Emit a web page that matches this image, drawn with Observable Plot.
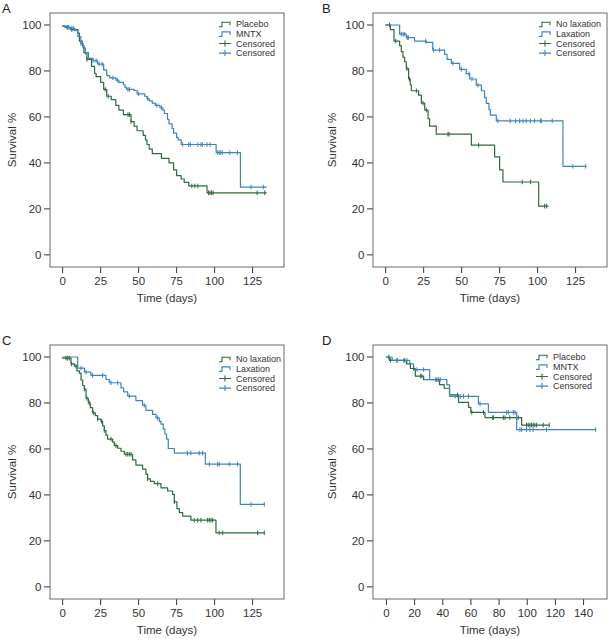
<!DOCTYPE html>
<html><head><meta charset="utf-8">
<script src="https://cdn.jsdelivr.net/npm/d3@7"></script>
<script src="https://cdn.jsdelivr.net/npm/@observablehq/plot@0.6"></script>
<style>
html,body{margin:0;padding:0;background:#fff;overflow:hidden}
#fig{position:relative;width:608px;height:639px;overflow:hidden;font-family:"Liberation Sans",Arial,Helvetica,sans-serif;color:#333}
.panel{position:absolute;width:300px;height:310px}
.panel svg{max-width:none !important;width:300px;height:310px}
.letter{position:absolute;font-size:13px;line-height:1;color:#222}
</style></head><body><div id="fig"></div>
<script>
// ---------- Panel A: Placebo vs MNTX ----------
const A_placebo_t = [0, 1.5, 5, 10, 11, 13, 14, 16, 19, 21, 22, 25, 27, 29, 32, 35, 37, 40, 45, 47, 49, 53, 54.5, 55.5, 57, 59, 65, 70, 73, 75, 78, 80, 83, 95, 134];
const A_placebo_s = [99.5, 99, 98, 96.5, 93, 91, 88, 85, 82, 79, 77.5, 75, 72, 69, 67.5, 65, 63, 61, 58, 56, 54, 52, 50, 48, 46, 44, 42, 40, 37, 34.5, 33, 31.5, 30, 27, 27];
const A_placebo_cens = [3, 6, 16, 28, 30, 43, 44, 45, 85, 87, 89, 96, 97, 98, 99, 128, 133];
const A_mntx_t = [0, 2, 5, 8, 10, 12, 13.5, 15, 17, 20, 23, 27, 29, 31, 35, 37, 40, 41, 42, 47, 49, 54, 55.5, 57, 59, 61, 64, 66, 67, 69, 70, 72, 73, 75, 76, 78, 101, 117, 134];
const A_mntx_s = [99.5, 99, 98.5, 97.5, 95, 92, 90, 88, 85.5, 84.5, 83, 80.5, 78, 77, 76, 75, 74, 73, 72, 71.5, 70, 69, 68, 67, 66, 65, 64, 63, 61.5, 59, 57, 55, 53, 51, 50, 48, 44.5, 29.5, 29.5];
const A_mntx_cens = [3, 4, 6, 7, 12, 13, 14, 15, 20, 22, 24, 26, 33, 36, 43, 44, 50, 56, 62, 65, 79, 83, 84, 89, 91, 92, 95, 97, 102, 103, 104, 105, 110, 115, 124, 132];

// ---------- Panel B: No laxation vs Laxation ----------
const B_nolax_t = [0, 3.1, 5.5, 9.2, 10.3, 11.4, 12.5, 13.6, 15.1, 16.2, 16.9, 21.7, 23.5, 25.7, 27.9, 28.9, 33.3, 56.4, 71.7, 75, 77.2, 100.7, 106.8];
const B_nolax_s = [100, 98, 93, 91, 88.4, 86, 84, 81, 76.5, 74, 71.4, 69.5, 66, 63, 59.3, 56, 52.5, 47.7, 42.6, 37, 31.7, 21.2, 21.2];
const B_nolax_cens = [2.6, 6.6, 14, 15.6, 20.2, 24.6, 26.8, 41, 41.7, 61.2, 89.9, 95.4, 104.6, 106];
const B_lax_t = [0, 9.2, 13.6, 19, 26.8, 31, 38.8, 40.4, 43.2, 48.7, 53, 55.3, 59.6, 63, 65.1, 66.2, 68, 68.9, 72.8, 116.7, 132];
const B_lax_s = [100, 96, 94.5, 93, 92.4, 89.1, 87.2, 85, 83.3, 80.7, 78.8, 76.5, 73.8, 71.4, 68.5, 65.9, 63.2, 60.8, 58.3, 38.5, 38.5];
const B_lax_cens = [10.3, 11.5, 12.5, 14.2, 14.9, 26.3, 31.5, 35.5, 44.3, 49.8, 54.8, 56.8, 60.7, 73.9, 82, 85.5, 88.2, 90.4, 92.5, 95.2, 98, 101.8, 102.4, 109.6, 123.2, 131.6];

// ---------- Panel C: No laxation vs Laxation ----------
const C_nolax_t = [0, 5.5, 7.7, 9.4, 11, 12.1, 13.2, 14.3, 15.4, 16.9, 18.2, 19.7, 21.5, 23, 25.2, 26.3, 27.4, 28.5, 29.6, 32.9, 34, 36.2, 38.4, 40.6, 46, 48.2, 52.6, 54.8, 55.9, 57.7, 60.3, 64.7, 69.1, 72.4, 73.5, 75.2, 76.8, 79, 84.4, 100.9, 132.7];
const C_nolax_s = [99.5, 97, 96, 94, 93, 90, 87.6, 86, 82, 80, 78, 75.7, 74.5, 73, 72, 70, 68, 66, 64.3, 63, 61.4, 60.3, 59, 57.7, 55.2, 53, 51.2, 49, 47, 45.9, 44.9, 43.1, 41.7, 40.2, 37, 34, 32.3, 30.8, 29, 23.5, 23.5];
const C_nolax_cens = [2.2, 3.3, 4.4, 5.9, 8.8, 14.3, 16, 17.5, 20.4, 23, 25.7, 27.4, 31.8, 35.1, 41.7, 42.8, 43.9, 45, 55.9, 62.5, 73.5, 86.6, 88.8, 91, 95.4, 96.5, 97.6, 98.7, 103, 105.3, 128.3, 132.7];
const C_lax_t = [0, 9.9, 14.3, 18.6, 28.5, 30.7, 38.4, 40.1, 42.8, 48.2, 52.6, 54.8, 59.2, 61.4, 63.6, 64.7, 66.2, 67.3, 68.4, 69.5, 73.5, 93.9, 116.9, 132.7];
const C_lax_s = [100, 95.2, 93.4, 92, 90.2, 88.8, 86.6, 84.8, 83, 81, 79, 76.8, 75, 73.5, 72, 70.8, 68.7, 66.5, 64.3, 60.2, 58.2, 53.4, 35.9, 35.9];
const C_lax_cens = [12.1, 15.4, 19.7, 26.3, 31.8, 36.2, 43.9, 53.7, 62.5, 82.2, 84.4, 89.9, 92.1, 96.5, 102, 103, 109.6, 115.1, 123.9, 132.7];

// ---------- Panel D: Placebo vs MNTX ----------
const D_placebo_t = [0, 2, 14.2, 17, 20.5, 26.4, 37.7, 41, 44.8, 51.2, 58.3, 59.9, 70, 96, 115.6];
const D_placebo_s = [100, 98.5, 97, 95, 91.7, 90.1, 88, 86.4, 83.5, 80.3, 78.1, 75.9, 73.6, 70.4, 70.4];
const D_placebo_cens = [1.7, 2.8, 7.5, 13, 19.3, 24.1, 25.2, 35.8, 50.5, 60.6, 68.9, 75.5, 76, 83, 84.2, 87.7, 93.6, 99.5, 100.7, 101.9, 103, 104.2, 105.4, 106.6, 111.3, 115.6];
const D_mntx_t = [0, 4, 16.5, 19.3, 30.7, 42.9, 44.8, 65.3, 72.4, 92.5, 148.6];
const D_mntx_s = [100, 98.5, 97, 94.5, 90.2, 87.9, 82.9, 79.6, 75.9, 68.4, 68.4];
const D_mntx_cens = [7.5, 12.3, 14.6, 21.7, 26.4, 34.7, 37, 38.2, 48.8, 52.4, 54.7, 58.3, 66.5, 85.4, 86.6, 90.1, 91.3, 94.8, 96, 99.5, 101.9, 104.2, 113.7, 148.6];

// ---------- Ticks and labels ----------
const yTicks = [0, 20, 40, 60, 80, 100];
const xTicks125 = [0, 25, 50, 75, 100, 125];
const xTicks140 = [0, 20, 40, 60, 80, 100, 120, 140];
const legendAD = ["Placebo", "MNTX", "Censored", "Censored"];
const legendBC = ["No laxation", "Laxation", "Censored", "Censored"];
const yLabel = "Survival %";
const xLabel = "Time (days)";

const GREEN = "#2f6a3c";
const BLUE = "#3b83c4";
const FONT = '"Liberation Sans", Arial, Helvetica, sans-serif';
const M = {left: 50, right: 16, top: 13, bottom: 43, width: 300, height: 310};

const censorTick = {
  draw(ctx, size) {
    const h = Math.sqrt(size / Math.PI);
    ctx.moveTo(0, -h); ctx.lineTo(0, h);
  }
};

function stepAt(t, s, c) {
  let v = s[0];
  for (let i = 0; i < t.length; i++) if (t[i] <= c) v = s[i];
  return v;
}

function makePanel(cfg) {
  const marks = [];
  cfg.series.forEach(sr => {
    const data = sr.t.map((d, i) => ({t: d, s: sr.s[i]}));
    marks.push(Plot.line(data, {x: "t", y: "s", curve: "step-after", stroke: sr.color, strokeWidth: 1.2}));
  });
  cfg.series.forEach(sr => {
    const cd = sr.cens.map(c => ({t: c, s: stepAt(sr.t, sr.s, c)}));
    marks.push(Plot.dot(cd, {x: "t", y: "s", symbol: censorTick, r: 2.3, stroke: sr.color, fill: "none", strokeWidth: 1}));
  });
  const svg = Plot.plot({
    width: M.width, height: M.height,
    marginLeft: M.left, marginRight: M.right, marginTop: M.top, marginBottom: M.bottom,
    style: {fontFamily: FONT, fontSize: "11.5px", color: "#333", background: "transparent", overflow: "visible", maxWidth: "none"},
    x: {domain: cfg.xDomain, ticks: cfg.xTicks, tickSize: 6, tickPadding: 3, label: null},
    y: {domain: [-5.5, 105], ticks: yTicks, tickSize: 6, tickPadding: 3, label: null},
    marks
  });
  const g = d3.select(svg).append("g").attr("font-family", FONT).attr("text-anchor", "start");
  // frame
  g.append("rect").attr("x", M.left).attr("y", M.top)
    .attr("width", M.width - M.left - M.right).attr("height", M.height - M.top - M.bottom)
    .attr("fill", "none").attr("stroke", "#6a6a6a").attr("stroke-width", 1);
  // axis titles
  g.append("text").attr("x", (M.left + M.width - M.right) / 2).attr("y", 302).attr("text-anchor", "middle")
    .attr("font-size", 11.5).attr("fill", "#333").text(xLabel);
  g.append("text").attr("transform", `translate(${cfg.yLabelX},${(M.top + M.height - M.bottom) / 2}) rotate(-90)`)
    .attr("text-anchor", "middle").attr("dominant-baseline", "central")
    .attr("font-size", 11.5).attr("fill", "#333").text(yLabel);
  // legend
  const colors = [GREEN, BLUE, GREEN, BLUE];
  cfg.legend.forEach((name, i) => {
    const y = cfg.legY + i * 9.6;
    const gx = cfg.legX;
    if (i < 2) {
      g.append("path").attr("d", `M${gx},${y + 2.5}H${gx + 3}V${y - 2}H${gx + 11}V${y + 1}`)
        .attr("fill", "none").attr("stroke", colors[i]).attr("stroke-width", 1.1);
    } else {
      g.append("path").attr("d", `M${gx},${y}H${gx + 12}M${gx + 6},${y - 3}V${y + 3}`)
        .attr("fill", "none").attr("stroke", colors[i]).attr("stroke-width", 1.1);
    }
    g.append("text").attr("x", gx + 17).attr("y", y).attr("dominant-baseline", "central")
      .attr("text-anchor", "start").attr("font-size", 9).attr("fill", "#333").text(name);
  });
  const wrap = document.createElement("div");
  wrap.className = "panel";
  wrap.style.left = cfg.left + "px";
  wrap.style.top = cfg.top + "px";
  wrap.appendChild(svg);
  const L = document.createElement("div");
  L.className = "letter";
  L.textContent = cfg.letter;
  L.style.left = cfg.letterX + "px";
  L.style.top = (cfg.top + 2) + "px";
  const fig = document.getElementById("fig");
  fig.appendChild(wrap);
  fig.appendChild(L);
}

makePanel({letter: "A", left: 0, top: 0, letterX: 2, yLabelX: 12, xDomain: [-8, 146], xTicks: xTicks125,
  legend: legendAD, legX: 219, legY: 24.3,
  series: [
    {t: A_placebo_t, s: A_placebo_s, cens: A_placebo_cens, color: GREEN},
    {t: A_mntx_t, s: A_mntx_s, cens: A_mntx_cens, color: BLUE}
  ]});
makePanel({letter: "B", left: 323, top: 0, letterX: 322, yLabelX: 9, xDomain: [-8, 146], xTicks: xTicks125,
  legend: legendBC, legX: 216, legY: 24.3,
  series: [
    {t: B_nolax_t, s: B_nolax_s, cens: B_nolax_cens, color: GREEN},
    {t: B_lax_t, s: B_lax_s, cens: B_lax_cens, color: BLUE}
  ]});
makePanel({letter: "C", left: 0, top: 332, letterX: 2, yLabelX: 12, xDomain: [-8, 146], xTicks: xTicks125,
  legend: legendBC, legX: 219, legY: 27.3,
  series: [
    {t: C_nolax_t, s: C_nolax_s, cens: C_nolax_cens, color: GREEN},
    {t: C_lax_t, s: C_lax_s, cens: C_lax_cens, color: BLUE}
  ]});
makePanel({letter: "D", left: 323, top: 332, letterX: 322, yLabelX: 9, xDomain: [-9.2, 157], xTicks: xTicks140,
  legend: legendAD, legX: 213, legY: 25.3,
  series: [
    {t: D_placebo_t, s: D_placebo_s, cens: D_placebo_cens, color: GREEN},
    {t: D_mntx_t, s: D_mntx_s, cens: D_mntx_cens, color: BLUE}
  ]});
</script></body></html>
